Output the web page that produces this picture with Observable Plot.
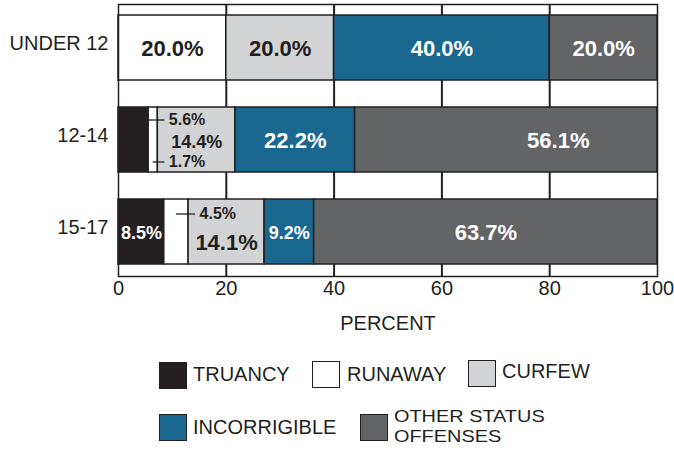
<!DOCTYPE html>
<html>
<head>
<meta charset="utf-8">
<script src="https://cdn.jsdelivr.net/npm/d3@7"></script>
<script src="https://cdn.jsdelivr.net/npm/@observablehq/plot@0.6"></script>
<style>
  html, body { margin: 0; padding: 0; background: #fff; }
  #wrap { position: relative; width: 674px; height: 450px; font-family: "Liberation Sans", Arial, sans-serif; color: #231f20; }
  #chart svg { display: block; }
  .sw { position: absolute; width: 26px; height: 25px; border: 1.5px solid #231f20; box-sizing: content-box; }
  .lt { position: absolute; font-size: 20px; line-height: 20px; white-space: nowrap; }
  .lt2 { position: absolute; font-size: 17px; line-height: 20px; height: 20px; white-space: nowrap; transform: scaleX(1.17); transform-origin: 0 50%; }
</style>
</head>
<body>
<div id="wrap">
  <div id="chart"></div>
  <div id="legend"></div>
</div>
<script>
const ages = ["UNDER 12", "12-14", "15-17"];
const categories = ["TRUANCY", "RUNAWAY", "CURFEW", "INCORRIGIBLE", "OTHER STATUS OFFENSES"];
const truancy = [0, 5.6, 8.5];
const runaway = [20, 1.7, 4.5];
const curfew = [20, 14.4, 14.1];
const incorrigible = [40, 22.2, 9.2];
const otherStatus = [20, 56.1, 63.7];
const xTicks = [0, 20, 40, 60, 80, 100];

const series = [truancy, runaway, curfew, incorrigible, otherStatus];
const colors = ["#231f20", "#ffffff", "#d1d3d4", "#1a6790", "#636466"];
const ink = "#231f20";
const font = '"Liberation Sans", Arial, sans-serif';

// stacked segments
const segments = [];
ages.forEach((age, i) => {
  let c = 0;
  categories.forEach((cat, j) => {
    const v = series[j][i];
    segments.push({age, category: cat, j, value: v, x1: c, x2: c + v, mid: c + v / 2, label: v.toFixed(1) + "%"});
    c += v;
  });
});

const inBar = [], callouts = [], leaders = [];
ages.forEach(age => {
  const row = segments.filter(s => s.age === age && s.value > 0);
  const small = row.filter(s => s.value < 6);
  const host = row.find(s => s.value >= 6 && s.j > Math.max(-1, ...small.map(s => s.j)));
  small.forEach((s, k) => {
    const dy = small.length === 2 ? (k === 0 ? -20 : 22) : -18;
    const next = row.find(r => r.j === s.j + 1);
    const start = next === host ? s.mid : s.x2;
    callouts.push({...s, xt: host.x1, dy});
    leaders.push({age, xa: start, xb: host.x1 + 1.3, dy});
  });
  row.filter(s => s.value >= 6).forEach(s => {
    let fs = 22, dy = 1;
    if (s.value < 10) fs = 18;
    if (s === host && small.length === 2) { fs = 18; dy = 2; }
    if (s === host && small.length === 1) { dy = 11; }
    const dark = s.category === "RUNAWAY" || s.category === "CURFEW";
    const dx = (age === "12-14" && s.category === "OTHER STATUS OFFENSES") ? 52 : 0;
    inBar.push({...s, fs, dy, dx, dark});
  });
});

const textMarks = [];
for (const dark of [true, false]) {
  for (const fs of [18, 22]) {
    for (const dy of [1, 2, 11]) {
      for (const dx of [0, 52]) {
        const sub = inBar.filter(d => d.dark === dark && d.fs === fs && d.dy === dy && d.dx === dx);
        if (sub.length) textMarks.push(Plot.text(sub, {
          x: "mid", y: "age", text: "label", fill: dark ? ink : "#ffffff",
          fontSize: fs, fontWeight: "bold", dy, dx
        }));
      }
    }
  }
}
const calloutMarks = [];
for (const dy of [-20, 22, -18]) {
  const sub = callouts.filter(d => d.dy === dy);
  const lsub = leaders.filter(d => d.dy === dy);
  if (sub.length) {
    calloutMarks.push(Plot.ruleY(lsub, {y: "age", x1: "xa", x2: "xb", dy, stroke: ink, strokeWidth: 1.3}));
    calloutMarks.push(Plot.text(sub, {x: "xt", y: "age", text: "label", dx: 11, dy, textAnchor: "start", fill: ink, fontSize: 16, fontWeight: "bold"}));
  }
}

const chart = Plot.plot({
  width: 674,
  height: 340,
  marginLeft: 118,
  marginRight: 17,
  marginTop: 4,
  marginBottom: 64,
  style: {fontFamily: font, color: ink, background: "#fff"},
  x: {domain: [0, 100]},
  y: {domain: ages, paddingInner: 0.29, paddingOuter: 0.12},
  color: {domain: categories, range: colors},
  marks: [
    Plot.gridX(xTicks.filter(t => t > 0 && t < 100), {stroke: ink, strokeOpacity: 1, strokeWidth: 2}),
    Plot.barX(segments.filter(s => s.value > 0), {x1: "x1", x2: "x2", y: "age", fill: "category", stroke: ink, strokeWidth: 1.5}),
    Plot.frame({stroke: ink, strokeWidth: 1.5}),
    Plot.axisX({ticks: xTicks, tickSize: 0, tickPadding: 4, fontSize: 20, label: "PERCENT", labelAnchor: "center", labelArrow: "none", labelOffset: 53}),
    Plot.axisY({tickSize: 0, tickPadding: 10, fontSize: 20, dy: -4, label: null}),
    ...textMarks,
    ...calloutMarks
  ]
});
document.getElementById("chart").appendChild(chart);

// legend (HTML)
const legendItems = [
  {name: categories[0], sw: [159, 362], tx: [193, 364], lines: null},
  {name: categories[1], sw: [312, 361], tx: [347, 364], lines: null},
  {name: categories[2], sw: [468, 360], tx: [502, 361], lines: null},
  {name: categories[3], sw: [159, 414], tx: [193, 417], lines: null},
  {name: categories[4], sw: [360, 414], tx: [394, 407], lines: ["OTHER STATUS", "OFFENSES"]}
];
const legend = document.getElementById("legend");
legendItems.forEach((it, i) => {
  const sw = document.createElement("div");
  sw.className = "sw";
  sw.style.left = it.sw[0] + "px";
  sw.style.top = it.sw[1] + "px";
  sw.style.background = colors[i];
  legend.appendChild(sw);
  if (it.lines) {
    it.lines.forEach((ln, k) => {
      const t = document.createElement("div");
      t.className = "lt2";
      t.style.left = it.tx[0] + "px";
      t.style.top = (it.tx[1] + k * 20) + "px";
      t.textContent = ln;
      legend.appendChild(t);
    });
  } else {
    const t = document.createElement("div");
    t.className = "lt";
    t.style.left = it.tx[0] + "px";
    t.style.top = it.tx[1] + "px";
    t.textContent = it.name;
    legend.appendChild(t);
  }
});
</script>
</body>
</html>
